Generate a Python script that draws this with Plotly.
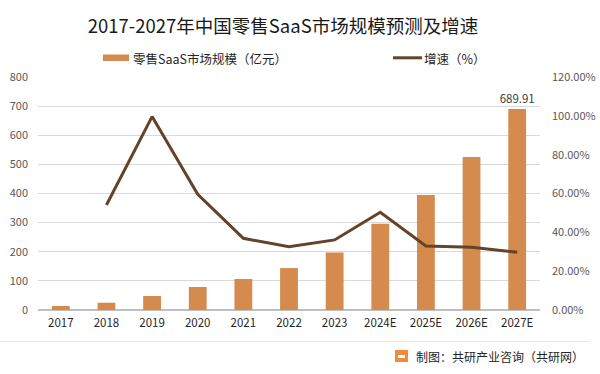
import plotly.graph_objects as go

categories = ["2017", "2018", "2019", "2020", "2021", "2022", "2023", "2024E", "2025E", "2026E", "2027E"]
market_size = [14, 25, 48, 79, 106.5, 144, 197, 296.5, 395, 525.5, 689.91]
growth_rate = [None, 54.1, 99.6, 59.6, 36.9, 32.6, 36.1, 50.3, 33.0, 32.3, 29.7]
bar_name = "零售SaaS市场规模（亿元）"
line_name = "增速（%）"

BAR = "#D48B4D"
LINE = "#634329"
FONT = "Noto Sans CJK SC, Noto Sans, sans-serif"

# plot area in pixels
L, R, T, B = 38, 540, 77, 310
PW, PH = R - L, B - T

def px(x):
    return (x - L) / PW

def py(y):
    return (B - y) / PH

fig = go.Figure()
fig.add_trace(go.Bar(
    x=categories, y=market_size, name=bar_name,
    marker=dict(color=BAR, line=dict(width=0)),
    text=[""] * (len(market_size) - 1) + [f"{market_size[-1]:.2f}"],
    textposition="outside", textfont=dict(size=11.5, color="#404040"),
    constraintext="none", cliponaxis=False, showlegend=False,
))
fig.add_trace(go.Scatter(
    x=categories, y=growth_rate, name=line_name, yaxis="y2",
    mode="lines", line=dict(color=LINE, width=3), showlegend=False,
))

fig.update_layout(
    width=600, height=374,
    margin=dict(l=L, r=600 - R, t=T, b=374 - B, autoexpand=False),
    paper_bgcolor="white", plot_bgcolor="white",
    font=dict(family=FONT, size=11, color="#595959"),
    title=dict(text="2017-2027年中国零售SaaS市场规模预测及增速", x=283/600, xanchor="center",
               y=1 - 27/374, yanchor="middle",
               font=dict(size=18.5, color="#1a1a1a", family=FONT)),
    bargap=0.61,
    showlegend=False,
    xaxis=dict(showgrid=False, showline=False, ticks="", ticklabelstandoff=4,
               tickfont=dict(size=11.5, color="#262626")),
    yaxis=dict(range=[0, 800], dtick=100, showgrid=True, gridcolor="#D9D9D9", gridwidth=1,
               zeroline=True, zerolinecolor="#BFBFBF", showline=False, ticks="",
               ticklabelstandoff=9, tickfont=dict(size=11, color="#595959")),
    yaxis2=dict(range=[0, 120], dtick=20, overlaying="y", side="right", showgrid=False,
                zeroline=False, showline=False, ticks="", ticksuffix=".00%",
                ticklabelstandoff=11, tickfont=dict(size=11, color="#595959")),
    shapes=[
        # legend swatches
        dict(type="rect", xref="paper", yref="paper", x0=px(103), x1=px(129),
             y0=py(61), y1=py(54.5), fillcolor=BAR, line=dict(width=0)),
        dict(type="line", xref="paper", yref="paper", x0=px(393), x1=px(422),
             y0=py(57.8), y1=py(57.8), line=dict(color=LINE, width=3)),
        # footer separator
        dict(type="line", xref="paper", yref="paper", x0=px(0), x1=px(590),
             y0=py(341.5), y1=py(341.5), line=dict(color="#E6E6E6", width=1)),
        # logo
        dict(type="rect", xref="paper", yref="paper", x0=px(395), x1=px(408),
             y0=py(362), y1=py(350), fillcolor="#F08A3C", line=dict(width=0)),
        dict(type="rect", xref="paper", yref="paper", x0=px(398), x1=px(405),
             y0=py(358), y1=py(355), fillcolor="white", line=dict(width=0)),
    ],
    annotations=[
        dict(text=bar_name, xref="paper", yref="paper", x=px(131), y=py(58.3),
             xanchor="left", yanchor="middle", showarrow=False,
             font=dict(size=12.5, color="#262626", family=FONT)),
        dict(text=line_name, xref="paper", yref="paper", x=px(422), y=py(58.3),
             xanchor="left", yanchor="middle", showarrow=False,
             font=dict(size=12.5, color="#262626", family=FONT)),
        dict(text="制图：共研产业咨询（共研网）", xref="paper", yref="paper",
             x=px(586), y=py(356), xanchor="right", yanchor="middle",
             showarrow=False, font=dict(size=12, color="#262626", family=FONT)),
    ],
)

fig.write_html("out.html", config={"displayModeBar": False},
               post_script="document.body.style.margin='0px';")
